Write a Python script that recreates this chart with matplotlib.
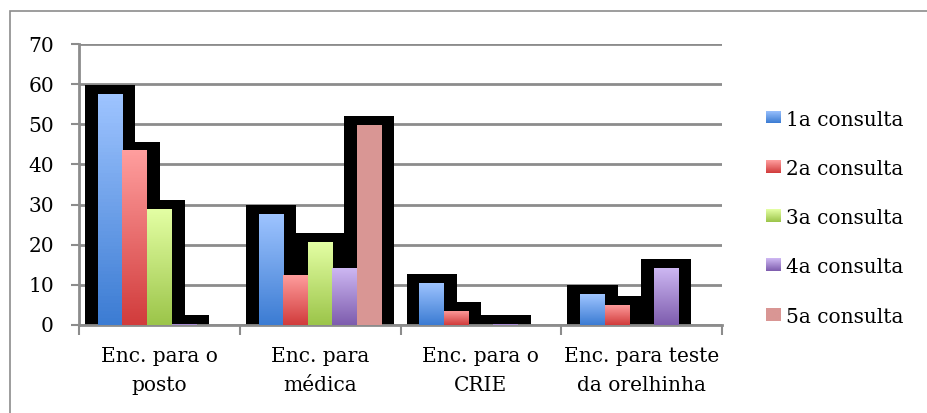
import numpy as np
import matplotlib
matplotlib.use("Agg")
import matplotlib.pyplot as plt
from matplotlib.colors import LinearSegmentedColormap
from matplotlib.patches import Rectangle

categories = ["Enc. para o\nposto", "Enc. para\nmédica", "Enc. para o\nCRIE", "Enc. para teste\nda orelhinha"]
series_names = ["1a consulta", "2a consulta", "3a consulta", "4a consulta", "5a consulta"]
s1 = [57.5, 27.7, 10.5, 7.7]
s2 = [43.5, 12.5, 3.5, 5.0]
s3 = [29.0, 20.7, 0.0, 0.0]
s4 = [0.2, 14.2, 0.2, 14.2]
s5 = [0.0, 49.9, 0.0, 0.0]
series = [s1, s2, s3, s4, s5]
yticks = [0, 10, 20, 30, 40, 50, 60, 70]

grads = [("#9EC4FF", "#3C7CD3"), ("#FF9E9E", "#D13C3C"), ("#E4FFA4", "#9CC54A"),
         ("#CEB8F3", "#7E5DAE"), ("#D99694", "#D99694")]

serif = ["DejaVu Serif"]
fs = 14.5
fig = plt.figure(figsize=(9.27, 4.13), dpi=100)
fig.patches.append(Rectangle((10/927, -0.1), 1.0, 1 - 11/413 + 0.1, transform=fig.transFigure,
                             fill=False, edgecolor="#8c8c8c", linewidth=1.2))
ax = fig.add_axes([79/927, 1-325/413, (722-79)/927, (325-44)/413])

n = len(series)
bw = 0.153
pad = 0.08
x = np.arange(len(categories))
for i, vals in enumerate(series):
    xs = x + (i - (n-1)/2) * bw
    v = np.array(vals)
    h = np.where(v > 0, v + 2.7, 0)
    ax.bar(xs, h, width=bw + 2*pad, bottom=-0.5, color="black", zorder=2, linewidth=0)
for i, vals in enumerate(series):
    xs = x + (i - (n-1)/2) * bw
    bars = ax.bar(xs, vals, width=bw, color="none", zorder=3, linewidth=0)
    cmap = LinearSegmentedColormap.from_list("g%d" % i, [grads[i][1], grads[i][0]])
    grad = np.linspace(0, 1, 64).reshape(-1, 1)
    for p in bars.patches:
        if p.get_height() <= 0:
            continue
        im = ax.imshow(grad, cmap=cmap, origin="lower", aspect="auto", zorder=3,
                       extent=[p.get_x(), p.get_x()+p.get_width(), 0, p.get_height()])
        im.set_clip_path(p)

ax.set_xlim(-0.5, len(categories) - 0.5)
ax.set_ylim(0, 70)
ax.set_yticks(yticks)
ax.set_yticklabels([str(t) for t in yticks], fontsize=fs, family=serif)
ax.yaxis.grid(True, color="#8c8c8c", linewidth=2, zorder=0)
ax.set_axisbelow(True)
ax.set_xticks(x)
ax.set_xticklabels(categories, fontsize=fs, family=serif, linespacing=1.68)
ax.set_xticks(np.arange(len(categories)+1) - 0.5, minor=True)
ax.tick_params(axis="x", which="major", length=0, pad=16)
ax.tick_params(axis="x", which="minor", length=7, width=1.5, color="#8c8c8c")
ax.tick_params(axis="y", length=6, width=1.5, color="#8c8c8c", pad=12)
for s in ["top", "right"]:
    ax.spines[s].set_visible(False)
for s in ["left", "bottom"]:
    ax.spines[s].set_color("#8c8c8c")
    ax.spines[s].set_linewidth(2)

# legend
for i, name in enumerate(series_names):
    yc = 117 + 49.3*i
    lax = fig.add_axes([766/927, 1-(yc+6.5)/413, 15/927, 13/413])
    cmap = LinearSegmentedColormap.from_list("l%d" % i, [grads[i][1], grads[i][0]])
    lax.imshow(np.linspace(0, 1, 32).reshape(-1, 1), cmap=cmap, origin="lower", aspect="auto")
    lax.set_axis_off()
    fig.text(786/927, 1-(yc+8.5)/413, name, fontsize=fs, family=serif, va="baseline", ha="left")

fig.savefig("out.png", dpi=100)
